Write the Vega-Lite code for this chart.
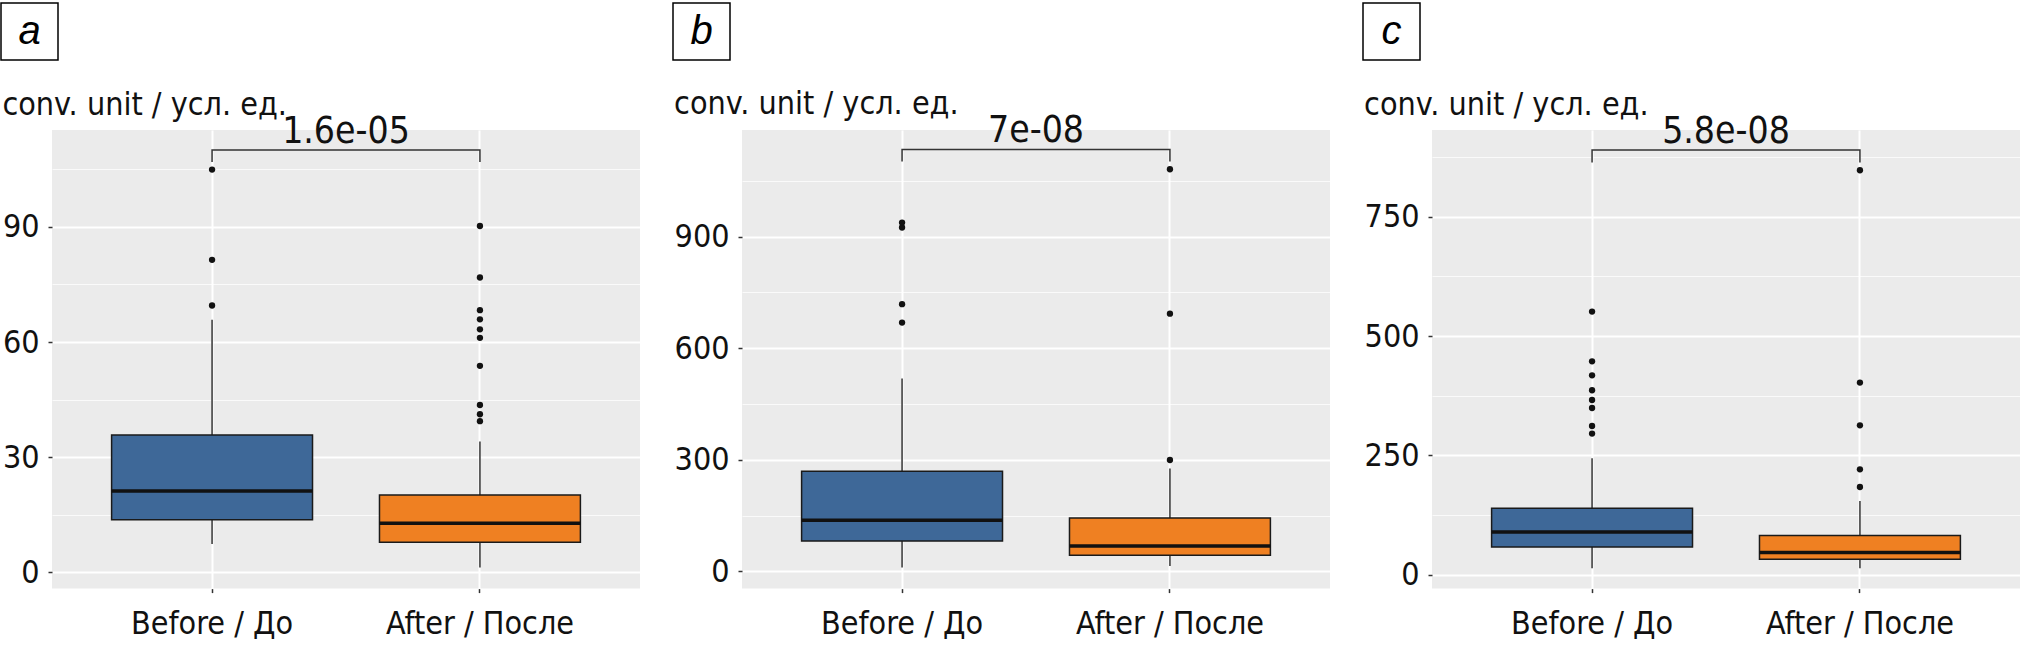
{
  "$schema": "https://vega.github.io/schema/vega-lite/v6.json",
  "padding": {"left": 0, "top": 2, "right": 0, "bottom": 3},
  "background": "white",
  "datasets": {
    "letters": [{"panel": "a", "letter": "a"}, {"panel": "b", "letter": "b"}, {"panel": "c", "letter": "c"}],
    "boxes": [
      {"panel": "a", "group": "Before / До", "lower": 7.4, "q1": 13.7, "median": 21.2, "q3": 35.8, "upper": 65.8},
      {"panel": "a", "group": "After / После", "lower": 1.3, "q1": 7.9, "median": 12.8, "q3": 20.2, "upper": 34.1},
      {"panel": "b", "group": "Before / До", "lower": 10, "q1": 81.5, "median": 137.2, "q3": 269, "upper": 518.4},
      {"panel": "b", "group": "After / После", "lower": 14.3, "q1": 43, "median": 68, "q3": 143.4, "upper": 276.3},
      {"panel": "c", "group": "Before / До", "lower": 13.6, "q1": 58.2, "median": 89.7, "q3": 139.3, "upper": 244},
      {"panel": "c", "group": "After / После", "lower": 13.6, "q1": 32.5, "median": 46.5, "q3": 82.1, "upper": 154.6}
    ],
    "outliers": [
      {"panel": "a", "group": "Before / До", "value": 69.5},
      {"panel": "a", "group": "Before / До", "value": 81.4},
      {"panel": "a", "group": "Before / До", "value": 104.9},
      {"panel": "a", "group": "After / После", "value": 39.4},
      {"panel": "a", "group": "After / После", "value": 41.2},
      {"panel": "a", "group": "After / После", "value": 43.6},
      {"panel": "a", "group": "After / После", "value": 53.8},
      {"panel": "a", "group": "After / После", "value": 61.1},
      {"panel": "a", "group": "After / После", "value": 63.3},
      {"panel": "a", "group": "After / После", "value": 65.9},
      {"panel": "a", "group": "After / После", "value": 68.3},
      {"panel": "a", "group": "After / После", "value": 76.8},
      {"panel": "a", "group": "After / После", "value": 90.2},
      {"panel": "b", "group": "Before / До", "value": 669},
      {"panel": "b", "group": "Before / До", "value": 718.5},
      {"panel": "b", "group": "Before / До", "value": 924.7},
      {"panel": "b", "group": "Before / До", "value": 938},
      {"panel": "b", "group": "After / После", "value": 299.4},
      {"panel": "b", "group": "After / После", "value": 693},
      {"panel": "b", "group": "After / После", "value": 1081.5},
      {"panel": "c", "group": "Before / До", "value": 295.8},
      {"panel": "c", "group": "Before / До", "value": 311.8},
      {"panel": "c", "group": "Before / До", "value": 349.5},
      {"panel": "c", "group": "Before / До", "value": 366.2},
      {"panel": "c", "group": "Before / До", "value": 386.6},
      {"panel": "c", "group": "Before / До", "value": 418},
      {"panel": "c", "group": "Before / До", "value": 447.3},
      {"panel": "c", "group": "Before / До", "value": 551.4},
      {"panel": "c", "group": "After / После", "value": 184},
      {"panel": "c", "group": "After / После", "value": 221},
      {"panel": "c", "group": "After / После", "value": 313.2},
      {"panel": "c", "group": "After / После", "value": 402.7},
      {"panel": "c", "group": "After / После", "value": 847.5}
    ],
    "brackets": [
      {"panel": "a", "group": "Before / До", "y": 106.9, "ord": 1},
      {"panel": "a", "group": "Before / До", "y": 110.0, "ord": 2},
      {"panel": "a", "group": "After / После", "y": 110.0, "ord": 3},
      {"panel": "a", "group": "After / После", "y": 106.9, "ord": 4},
      {"panel": "b", "group": "Before / До", "y": 1102, "ord": 1},
      {"panel": "b", "group": "Before / До", "y": 1134.7, "ord": 2},
      {"panel": "b", "group": "After / После", "y": 1134.7, "ord": 3},
      {"panel": "b", "group": "After / После", "y": 1102, "ord": 4},
      {"panel": "c", "group": "Before / До", "y": 863.6, "ord": 1},
      {"panel": "c", "group": "Before / До", "y": 890, "ord": 2},
      {"panel": "c", "group": "After / После", "y": 890, "ord": 3},
      {"panel": "c", "group": "After / После", "y": 863.6, "ord": 4}
    ],
    "pvals": [
      {"panel": "a", "label": "1.6e-05", "y": 110.0},
      {"panel": "b", "label": "7e-08", "y": 1134.7},
      {"panel": "c", "label": "5.8e-08", "y": 890}
    ]
  },
  "hconcat": [
    {
      "spacing": 27,
      "vconcat": [
        {
          "width": 57, "height": 57,
          "view": {"stroke": "black", "strokeWidth": 1.5, "fill": "white"},
          "data": {"name": "letters"},
          "transform": [{"filter": "datum.panel === 'a'"}],
          "mark": {"type": "text", "font": "Liberation Sans", "fontStyle": "italic", "fontSize": 40, "align": "center", "baseline": "middle", "color": "black"},
          "encoding": {"text": {"field": "letter"}}
        },
        {
          "spacing": 0,
          "hconcat": [
            {
              "width": 1, "height": 1,
              "data": {"name": "letters"},
              "transform": [{"filter": "false"}],
              "mark": {"type": "text"},
              "encoding": {"text": {"field": "letter"}}
            },
            {
              "width": 588, "height": 458.6,
              "view": {"fill": "#EBEBEB", "stroke": null},
              "title": {"text": "conv. unit / усл. ед.", "anchor": "start", "frame": "bounds"},
              "resolve": {"axis": {"y": "independent"}},
              "layer": [
                {
                  "data": {"name": "boxes"},
                  "transform": [{"filter": "datum.panel === 'a'"}],
                  "mark": {"type": "rule", "color": "#333333", "strokeWidth": 1.5},
                  "encoding": {
                    "x": {"field": "group", "type": "nominal", "sort": ["Before / До", "After / После"], "scale": {"type": "band", "domain": ["Before / До", "After / После"], "paddingInner": 0.25, "paddingOuter": 0.2225},
                          "axis": {"title": null, "labelAngle": 0, "bandPosition": 0.5, "grid": true, "gridColor": "white", "gridWidth": 2, "domain": false, "ticks": true, "tickSize": 4, "labelPadding": 16}},
                    "y": {"field": "lower", "type": "quantitative", "scale": {"domain": [-4.2, 115.2], "nice": false, "zero": false},
                          "axis": {"title": null, "orient": "left", "values": [0, 30, 60, 90], "grid": true, "gridColor": "white", "gridWidth": 2, "domain": false, "tickSize": 4, "labelPadding": 9}},
                    "y2": {"field": "upper"}
                  }
                },
                {
                  "data": {"name": "boxes"},
                  "transform": [{"filter": "datum.panel === 'a'"}],
                  "mark": {"type": "bar", "stroke": "#1a1a1a", "strokeWidth": 1.5},
                  "encoding": {
                    "x": {"field": "group", "type": "nominal", "scale": {"type": "band", "domain": ["Before / До", "After / После"], "paddingInner": 0.25, "paddingOuter": 0.2225}},
                    "y": {"field": "q1", "type": "quantitative", "axis": {"title": null, "orient": "right", "values": [15, 45, 75, 105], "grid": true, "gridColor": "white", "gridWidth": 1, "gridOpacity": 0.75, "domain": false, "ticks": false, "labels": false}},
                    "y2": {"field": "q3"},
                    "color": {"field": "group", "type": "nominal", "scale": {"domain": ["Before / До", "After / После"], "range": ["#3E6898", "#EF8022"]}, "legend": null}
                  }
                },
                {
                  "data": {"name": "boxes"},
                  "transform": [{"filter": "datum.panel === 'a'"}],
                  "mark": {"type": "tick", "color": "#111111", "thickness": 3.5, "opacity": 1},
                  "encoding": {
                    "x": {"field": "group", "type": "nominal", "scale": {"type": "band", "domain": ["Before / До", "After / После"], "paddingInner": 0.25, "paddingOuter": 0.2225}},
                    "y": {"field": "median", "type": "quantitative", "axis": null}
                  }
                },
                {
                  "data": {"name": "outliers"},
                  "transform": [{"filter": "datum.panel === 'a'"}],
                  "mark": {"type": "point", "filled": true, "color": "#111111", "size": 40, "opacity": 1},
                  "encoding": {
                    "x": {"field": "group", "type": "nominal", "scale": {"type": "band", "domain": ["Before / До", "After / После"], "paddingInner": 0.25, "paddingOuter": 0.2225}},
                    "y": {"field": "value", "type": "quantitative", "axis": null}
                  }
                },
                {
                  "data": {"name": "brackets"},
                  "transform": [{"filter": "datum.panel === 'a'"}],
                  "mark": {"type": "line", "color": "#333333", "strokeWidth": 1.5},
                  "encoding": {
                    "x": {"field": "group", "type": "nominal", "scale": {"type": "band", "domain": ["Before / До", "After / После"], "paddingInner": 0.25, "paddingOuter": 0.2225}},
                    "y": {"field": "y", "type": "quantitative", "axis": null},
                    "order": {"field": "ord", "type": "quantitative"}
                  }
                },
                {
                  "data": {"name": "pvals"},
                  "transform": [{"filter": "datum.panel === 'a'"}],
                  "mark": {"type": "text", "fontSize": 37, "baseline": "alphabetic", "align": "center", "dy": -7, "color": "#111111"},
                  "encoding": {
                    "y": {"field": "y", "type": "quantitative", "axis": null},
                    "text": {"field": "label"}
                  }
                }
              ]
            }
          ]
        }
      ]
    },
    {
      "spacing": 27,
      "vconcat": [
        {
          "width": 57, "height": 57,
          "view": {"stroke": "black", "strokeWidth": 1.5, "fill": "white"},
          "data": {"name": "letters"},
          "transform": [{"filter": "datum.panel === 'b'"}],
          "mark": {"type": "text", "font": "Liberation Sans", "fontStyle": "italic", "fontSize": 40, "align": "center", "baseline": "middle", "color": "black"},
          "encoding": {"text": {"field": "letter"}}
        },
        {
          "spacing": 0,
          "hconcat": [
            {
              "width": 1, "height": 1,
              "data": {"name": "letters"},
              "transform": [{"filter": "false"}],
              "mark": {"type": "text"},
              "encoding": {"text": {"field": "letter"}}
            },
            {
              "width": 588, "height": 458.6,
              "view": {"fill": "#EBEBEB", "stroke": null},
              "title": {"text": "conv. unit / усл. ед.", "anchor": "start", "frame": "bounds"},
              "resolve": {"axis": {"y": "independent"}},
              "layer": [
                {
                  "data": {"name": "boxes"},
                  "transform": [{"filter": "datum.panel === 'b'"}],
                  "mark": {"type": "rule", "color": "#333333", "strokeWidth": 1.5},
                  "encoding": {
                    "x": {"field": "group", "type": "nominal", "sort": ["Before / До", "After / После"], "scale": {"type": "band", "domain": ["Before / До", "After / После"], "paddingInner": 0.25, "paddingOuter": 0.2225},
                          "axis": {"title": null, "labelAngle": 0, "bandPosition": 0.5, "grid": true, "gridColor": "white", "gridWidth": 2, "domain": false, "ticks": true, "tickSize": 4, "labelPadding": 16}},
                    "y": {"field": "lower", "type": "quantitative", "scale": {"domain": [-46.5, 1187], "nice": false, "zero": false},
                          "axis": {"title": null, "orient": "left", "values": [0, 300, 600, 900], "grid": true, "gridColor": "white", "gridWidth": 2, "domain": false, "tickSize": 4, "labelPadding": 9}},
                    "y2": {"field": "upper"}
                  }
                },
                {
                  "data": {"name": "boxes"},
                  "transform": [{"filter": "datum.panel === 'b'"}],
                  "mark": {"type": "bar", "stroke": "#1a1a1a", "strokeWidth": 1.5},
                  "encoding": {
                    "x": {"field": "group", "type": "nominal", "scale": {"type": "band", "domain": ["Before / До", "After / После"], "paddingInner": 0.25, "paddingOuter": 0.2225}},
                    "y": {"field": "q1", "type": "quantitative", "axis": {"title": null, "orient": "right", "values": [150, 450, 750, 1050], "grid": true, "gridColor": "white", "gridWidth": 1, "gridOpacity": 0.75, "domain": false, "ticks": false, "labels": false}},
                    "y2": {"field": "q3"},
                    "color": {"field": "group", "type": "nominal", "scale": {"domain": ["Before / До", "After / После"], "range": ["#3E6898", "#EF8022"]}, "legend": null}
                  }
                },
                {
                  "data": {"name": "boxes"},
                  "transform": [{"filter": "datum.panel === 'b'"}],
                  "mark": {"type": "tick", "color": "#111111", "thickness": 3.5, "opacity": 1},
                  "encoding": {
                    "x": {"field": "group", "type": "nominal", "scale": {"type": "band", "domain": ["Before / До", "After / После"], "paddingInner": 0.25, "paddingOuter": 0.2225}},
                    "y": {"field": "median", "type": "quantitative", "axis": null}
                  }
                },
                {
                  "data": {"name": "outliers"},
                  "transform": [{"filter": "datum.panel === 'b'"}],
                  "mark": {"type": "point", "filled": true, "color": "#111111", "size": 40, "opacity": 1},
                  "encoding": {
                    "x": {"field": "group", "type": "nominal", "scale": {"type": "band", "domain": ["Before / До", "After / После"], "paddingInner": 0.25, "paddingOuter": 0.2225}},
                    "y": {"field": "value", "type": "quantitative", "axis": null}
                  }
                },
                {
                  "data": {"name": "brackets"},
                  "transform": [{"filter": "datum.panel === 'b'"}],
                  "mark": {"type": "line", "color": "#333333", "strokeWidth": 1.5},
                  "encoding": {
                    "x": {"field": "group", "type": "nominal", "scale": {"type": "band", "domain": ["Before / До", "After / После"], "paddingInner": 0.25, "paddingOuter": 0.2225}},
                    "y": {"field": "y", "type": "quantitative", "axis": null},
                    "order": {"field": "ord", "type": "quantitative"}
                  }
                },
                {
                  "data": {"name": "pvals"},
                  "transform": [{"filter": "datum.panel === 'b'"}],
                  "mark": {"type": "text", "fontSize": 37, "baseline": "alphabetic", "align": "center", "dy": -7, "color": "#111111"},
                  "encoding": {
                    "y": {"field": "y", "type": "quantitative", "axis": null},
                    "text": {"field": "label"}
                  }
                }
              ]
            }
          ]
        }
      ]
    },
    {
      "spacing": 27,
      "vconcat": [
        {
          "width": 57, "height": 57,
          "view": {"stroke": "black", "strokeWidth": 1.5, "fill": "white"},
          "data": {"name": "letters"},
          "transform": [{"filter": "datum.panel === 'c'"}],
          "mark": {"type": "text", "font": "Liberation Sans", "fontStyle": "italic", "fontSize": 40, "align": "center", "baseline": "middle", "color": "black"},
          "encoding": {"text": {"field": "letter"}}
        },
        {
          "spacing": 0,
          "hconcat": [
            {
              "width": 1, "height": 1,
              "data": {"name": "letters"},
              "transform": [{"filter": "false"}],
              "mark": {"type": "text"},
              "encoding": {"text": {"field": "letter"}}
            },
            {
              "width": 588, "height": 458.6,
              "view": {"fill": "#EBEBEB", "stroke": null},
              "title": {"text": "conv. unit / усл. ед.", "anchor": "start", "frame": "bounds"},
              "resolve": {"axis": {"y": "independent"}},
              "layer": [
                {
                  "data": {"name": "boxes"},
                  "transform": [{"filter": "datum.panel === 'c'"}],
                  "mark": {"type": "rule", "color": "#333333", "strokeWidth": 1.5},
                  "encoding": {
                    "x": {"field": "group", "type": "nominal", "sort": ["Before / До", "After / После"], "scale": {"type": "band", "domain": ["Before / До", "After / После"], "paddingInner": 0.25, "paddingOuter": 0.2225},
                          "axis": {"title": null, "labelAngle": 0, "bandPosition": 0.5, "grid": true, "gridColor": "white", "gridWidth": 2, "domain": false, "ticks": true, "tickSize": 4, "labelPadding": 16}},
                    "y": {"field": "lower", "type": "quantitative", "scale": {"domain": [-28.9, 931.9], "nice": false, "zero": false},
                          "axis": {"title": null, "orient": "left", "values": [0, 250, 500, 750], "grid": true, "gridColor": "white", "gridWidth": 2, "domain": false, "tickSize": 4, "labelPadding": 9}},
                    "y2": {"field": "upper"}
                  }
                },
                {
                  "data": {"name": "boxes"},
                  "transform": [{"filter": "datum.panel === 'c'"}],
                  "mark": {"type": "bar", "stroke": "#1a1a1a", "strokeWidth": 1.5},
                  "encoding": {
                    "x": {"field": "group", "type": "nominal", "scale": {"type": "band", "domain": ["Before / До", "After / После"], "paddingInner": 0.25, "paddingOuter": 0.2225}},
                    "y": {"field": "q1", "type": "quantitative", "axis": {"title": null, "orient": "right", "values": [125, 375, 625, 875], "grid": true, "gridColor": "white", "gridWidth": 1, "gridOpacity": 0.75, "domain": false, "ticks": false, "labels": false}},
                    "y2": {"field": "q3"},
                    "color": {"field": "group", "type": "nominal", "scale": {"domain": ["Before / До", "After / После"], "range": ["#3E6898", "#EF8022"]}, "legend": null}
                  }
                },
                {
                  "data": {"name": "boxes"},
                  "transform": [{"filter": "datum.panel === 'c'"}],
                  "mark": {"type": "tick", "color": "#111111", "thickness": 3.5, "opacity": 1},
                  "encoding": {
                    "x": {"field": "group", "type": "nominal", "scale": {"type": "band", "domain": ["Before / До", "After / После"], "paddingInner": 0.25, "paddingOuter": 0.2225}},
                    "y": {"field": "median", "type": "quantitative", "axis": null}
                  }
                },
                {
                  "data": {"name": "outliers"},
                  "transform": [{"filter": "datum.panel === 'c'"}],
                  "mark": {"type": "point", "filled": true, "color": "#111111", "size": 40, "opacity": 1},
                  "encoding": {
                    "x": {"field": "group", "type": "nominal", "scale": {"type": "band", "domain": ["Before / До", "After / После"], "paddingInner": 0.25, "paddingOuter": 0.2225}},
                    "y": {"field": "value", "type": "quantitative", "axis": null}
                  }
                },
                {
                  "data": {"name": "brackets"},
                  "transform": [{"filter": "datum.panel === 'c'"}],
                  "mark": {"type": "line", "color": "#333333", "strokeWidth": 1.5},
                  "encoding": {
                    "x": {"field": "group", "type": "nominal", "scale": {"type": "band", "domain": ["Before / До", "After / После"], "paddingInner": 0.25, "paddingOuter": 0.2225}},
                    "y": {"field": "y", "type": "quantitative", "axis": null},
                    "order": {"field": "ord", "type": "quantitative"}
                  }
                },
                {
                  "data": {"name": "pvals"},
                  "transform": [{"filter": "datum.panel === 'c'"}],
                  "mark": {"type": "text", "fontSize": 37, "baseline": "alphabetic", "align": "center", "dy": -7, "color": "#111111"},
                  "encoding": {
                    "y": {"field": "y", "type": "quantitative", "axis": null},
                    "text": {"field": "label"}
                  }
                }
              ]
            }
          ]
        }
      ]
    }
  ],
  "spacing": 32,
  "config": {
    "font": "DejaVu Sans Condensed, Roboto, sans-serif",
    "view": {"stroke": null},
    "axis": {"labelFont": "DejaVu Sans Condensed, Roboto, sans-serif", "labelFontSize": 32, "labelColor": "#111111", "labelLimit": 0, "tickColor": "#333333", "tickWidth": 1.5},
    "text": {"font": "DejaVu Sans Condensed, Roboto, sans-serif"},
    "title": {"font": "DejaVu Sans Condensed, Roboto, sans-serif", "fontSize": 32, "fontWeight": "normal", "color": "#111111", "offset": -9, "baseline": "alphabetic"}
  }
}
